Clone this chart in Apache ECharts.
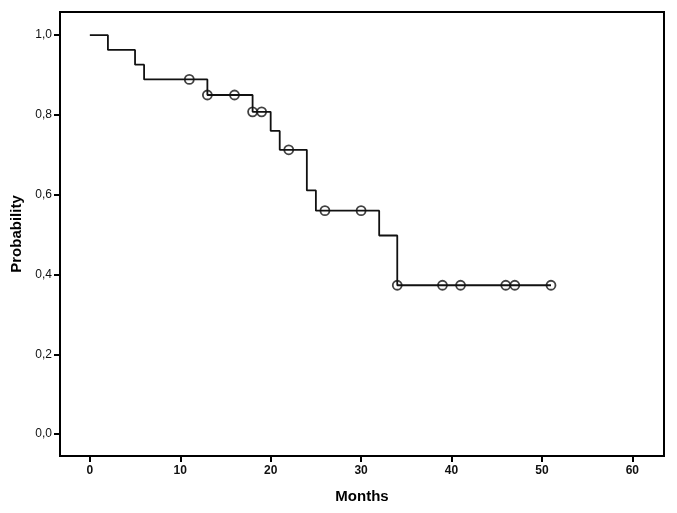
<!DOCTYPE html>
<html><head><meta charset="utf-8">
<script src="https://cdn.jsdelivr.net/npm/echarts@6/dist/echarts.min.js"></script>
<style>html,body{margin:0;padding:0;background:#fff}#c{width:677px;height:513px}</style>
</head><body><div id="c"></div>
<script>
// Kaplan-Meier step data (time in months, survival probability)
const eventTimes = [0, 2, 5, 6, 13, 18, 20, 21, 24, 25, 32, 34, 51];
const survival   = [1.0, 0.963, 0.926, 0.889, 0.850, 0.8077, 0.760, 0.7126, 0.6108, 0.560, 0.4977, 0.373, 0.373];
const censorTimes = [11, 13, 16, 18, 19, 22, 26, 30, 34, 39, 41, 46, 47, 51];
const xTicks = [0, 10, 20, 30, 40, 50, 60];
const yTicks = [0, 0.2, 0.4, 0.6, 0.8, 1.0];

function survAt(t){ let s = survival[0]; for(let i=0;i<eventTimes.length;i++){ if(eventTimes[i] <= t) s = survival[i]; } return s; }
const stepData = eventTimes.map((t,i)=>[t, survival[i]]);
const censorData = censorTimes.map(t=>[t, survAt(t)]);

const font = 'Liberation Sans, Arial, sans-serif';
const chart = echarts.init(document.getElementById('c'), null, {renderer:'canvas'});
chart.setOption({
  animation:false,
  grid:{left:60, top:12, right:13, bottom:57, containLabel:false, outerBoundsMode:'none',
    show:true, borderColor:'#000', borderWidth:2, backgroundColor:'transparent'},
  xAxis:{type:'value', min:-3.3, max:63.5,
    name:'Months', nameLocation:'middle', nameGap:33,
    nameTextStyle:{fontFamily:font, fontWeight:'bold', fontSize:15, color:'#000'},
    axisLine:{show:false, onZero:false}, splitLine:{show:false},
    axisTick:{show:true, inside:false, customValues:xTicks, length:6, lineStyle:{color:'#000', width:2}},
    axisLabel:{customValues:xTicks, fontFamily:font, fontSize:12, fontWeight:'bold', color:'#111', margin:9, formatter:v=>String(v)}},
  yAxis:{type:'value', min:-0.055, max:1.058,
    name:'Probability', nameLocation:'middle', nameGap:35, nameRotate:90,
    nameTextStyle:{fontFamily:font, fontWeight:'bold', fontSize:15, color:'#000'},
    axisLine:{show:false, onZero:false}, splitLine:{show:false},
    axisTick:{show:true, inside:false, customValues:yTicks, length:6, lineStyle:{color:'#000', width:2}},
    axisLabel:{customValues:yTicks, fontFamily:font, fontSize:12, color:'#111', margin:8, formatter:v=>v.toFixed(1).replace('.',',')}},
  series:[
    {type:'line', step:'end', data:stepData, showSymbol:false, symbol:'none',
      lineStyle:{color:'#111', width:1.8}},
    {type:'scatter', data:censorData, symbol:'circle', symbolSize:9,
      itemStyle:{color:'rgba(255,255,255,0)', borderColor:'#111', borderWidth:1.8}}
  ]
});
</script></body></html>
